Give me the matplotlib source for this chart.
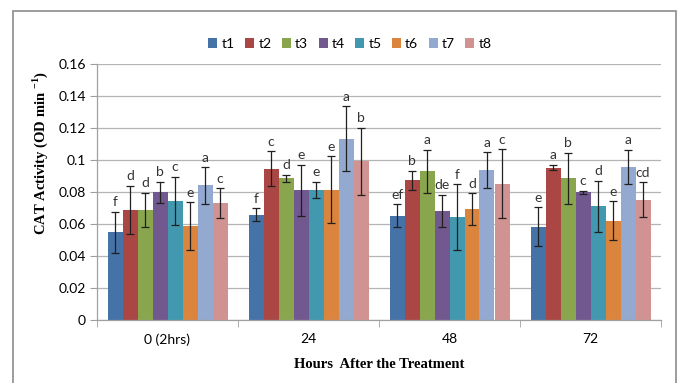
import matplotlib
matplotlib.use("Agg")
import matplotlib.pyplot as plt
from matplotlib.patches import Rectangle
import numpy as np

groups = ["0 (2hrs)", "24", "48", "72"]
series = ["t1", "t2", "t3", "t4", "t5", "t6", "t7", "t8"]
colors = ["#4572A7", "#AA4643", "#89A54E", "#71588F",
          "#4198AF", "#DB843D", "#93A9CF", "#D19392"]

# mean CAT activity per treatment, one list per time point
means = {
    "0 (2hrs)": [0.0547, 0.0689, 0.0689, 0.0799, 0.0745, 0.0586, 0.0841, 0.0732],
    "24":       [0.0659, 0.0945, 0.0886, 0.0810, 0.0814, 0.0814, 0.1132, 0.0991],
    "48":       [0.0651, 0.0872, 0.0930, 0.0682, 0.0643, 0.0691, 0.0936, 0.0851],
    "72":       [0.0584, 0.0953, 0.0886, 0.0799, 0.0711, 0.0620, 0.0957, 0.0751],
}
errors = {
    "0 (2hrs)": [0.0130, 0.0150, 0.0105, 0.0066, 0.0150, 0.0150, 0.0115, 0.0093],
    "24":       [0.0040, 0.0110, 0.0023, 0.0160, 0.0050, 0.0210, 0.0203, 0.0210],
    "48":       [0.0072, 0.0060, 0.0134, 0.0101, 0.0206, 0.0100, 0.0114, 0.0216],
    "72":       [0.0122, 0.0018, 0.0160, 0.0009, 0.0160, 0.0122, 0.0107, 0.0110],
}
letters = {
    "0 (2hrs)": ["f", "d", "d", "b", "c", "e", "a", "c"],
    "24":       ["f", "c", "d", "e", "e", "e", "a", "b"],
    "48":       ["ef", "b", "a", "de", "f", "d", "a", "c"],
    "72":       ["e", "a", "b", "c", "d", "e", "a", "cd"],
}

fig = plt.figure(figsize=(6.81, 3.83), dpi=100)
W, H = 681, 383
ax = fig.add_axes([97 / W, 1 - 320 / H, (661 - 97) / W, (320 - 64) / H])

# outer chart border
fig.patches.append(Rectangle((12.7 / W, -0.05), (676 - 12.7) / W, 1 - 11 / H + 0.05,
                             transform=fig.transFigure, fill=False,
                             edgecolor="#8c8c8c", linewidth=1.2))

tick_font = dict(family=["Lato", "DejaVu Sans"], size=10)
label_font = dict(family=["Liberation Serif", "DejaVu Serif"], size=10.5, weight="bold")

n = len(series)
width = 15 / 141
x = np.arange(len(groups))
for i, s in enumerate(series):
    vals = [means[g][i] for g in groups]
    errs = [errors[g][i] for g in groups]
    pos = x + (i - (n - 1) / 2) * width
    ax.bar(pos, vals, width=width, color=colors[i], label=s, zorder=2)
    ax.errorbar(pos, vals, yerr=errs, fmt="none", ecolor="#202020",
                elinewidth=0.9, capsize=2.6, capthick=0.9, zorder=3)
    for p, v, e, g in zip(pos, vals, errs, groups):
        ax.annotate(letters[g][i], (p, v + e), xytext=(0, 2.5),
                    textcoords="offset points", ha="center", va="bottom",
                    color="#333333", **tick_font)

ax.set_xlim(-0.5, len(groups) - 0.5)
ax.set_ylim(0, 0.16)
ax.set_yticks(np.arange(0, 0.161, 0.02))
ax.set_yticklabels(["0", "0.02", "0.04", "0.06", "0.08", "0.1", "0.12", "0.14", "0.16"],
                   **tick_font)
ax.set_xticks(x)
ax.set_xticklabels(groups, **tick_font)
ax.set_xticks(np.arange(-0.5, len(groups)), minor=True)
ax.tick_params(axis="x", which="major", length=0, pad=9.5)
ax.tick_params(axis="x", which="minor", length=5, color="#a0a0a0")
ax.tick_params(axis="y", length=5, color="#a0a0a0", pad=3)
ax.grid(axis="y", color="#b4b4b4", linewidth=0.9, zorder=0)
ax.set_axisbelow(True)
for side in ("top", "right"):
    ax.spines[side].set_visible(False)
for side in ("left", "bottom"):
    ax.spines[side].set_color("#a0a0a0")
    ax.spines[side].set_linewidth(0.9)

ax.set_xlabel("Hours  After the Treatment", labelpad=9, **label_font)
fig.text(40 / W, 1 - 153 / H, r"CAT Activity (OD min $^{\mathregular{-1}}$)", rotation=90,
         ha="center", va="center", **label_font)

leg = fig.legend(loc="center", bbox_to_anchor=(350 / W, 1 - 44 / H), ncol=8,
                 frameon=False, handlelength=0.65, handleheight=0.65,
                 handletextpad=0.3, columnspacing=0.75,
                 prop=dict(family=["Lato", "DejaVu Sans"], size=10))

fig.savefig("out.png", dpi=100)
